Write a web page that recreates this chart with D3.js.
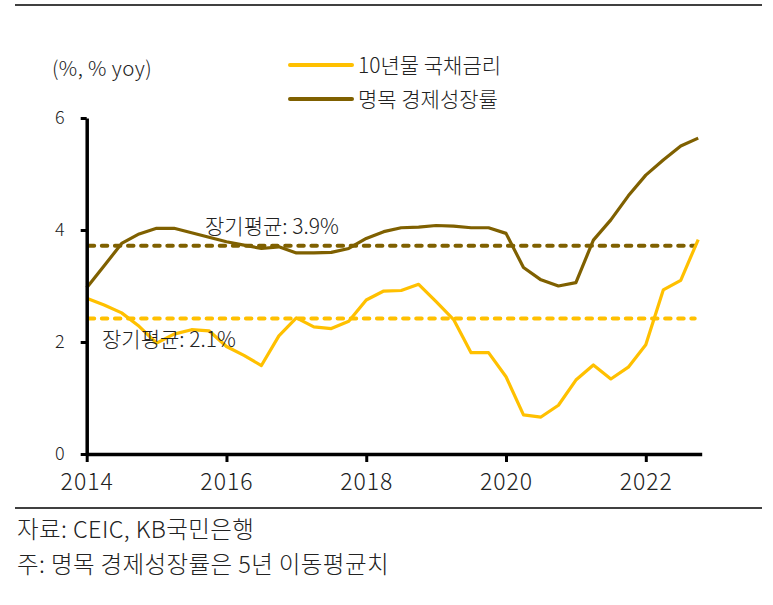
<!DOCTYPE html>
<html>
<head>
<meta charset="utf-8">
<script src="https://cdn.jsdelivr.net/npm/d3@7"></script>
<style>
  body { margin: 0; background: #fff; }
  svg { display: block; font-family: "Noto Sans CJK KR", "Noto Sans", sans-serif; font-weight: 300; }
  text { fill: #222; }
</style>
</head>
<body>
<svg id="chart"></svg>
<script>
const quarters = [
  "2014Q1","2014Q2","2014Q3","2014Q4","2015Q1","2015Q2","2015Q3","2015Q4",
  "2016Q1","2016Q2","2016Q3","2016Q4","2017Q1","2017Q2","2017Q3","2017Q4",
  "2018Q1","2018Q2","2018Q3","2018Q4","2019Q1","2019Q2","2019Q3","2019Q4",
  "2020Q1","2020Q2","2020Q3","2020Q4","2021Q1","2021Q2","2021Q3","2021Q4",
  "2022Q1","2022Q2","2022Q3","2022Q4"
]

// 10년물 국채금리
const bondYield = [
  2.78, 2.66, 2.52, 2.28, 1.98, 2.14, 2.22, 2.20,
  1.92, 1.76, 1.58, 2.11, 2.43, 2.27, 2.24, 2.37,
  2.75, 2.91, 2.92, 3.03, 2.72, 2.40, 1.81, 1.81,
  1.38, 0.70, 0.66, 0.87, 1.32, 1.59, 1.34, 1.55,
  1.95, 2.93, 3.10, 3.83
]

// 명목 경제성장률 (5년 이동평균)
const nominalGrowth = [
  2.97, 3.36, 3.76, 3.93, 4.03, 4.03, 3.95, 3.87,
  3.79, 3.73, 3.67, 3.70, 3.59, 3.59, 3.60, 3.67,
  3.85, 3.97, 4.04, 4.05, 4.08, 4.07, 4.04, 4.04,
  3.94, 3.33, 3.11, 3.00, 3.06, 3.82, 4.18, 4.61,
  4.98, 5.25, 5.50, 5.64
]

// 장기평균 (as drawn) and their labels
const averages = [
  { key: "growth", value: 3.72, label: "장기평균: 3.9%" },
  { key: "bond",   value: 2.42, label: "장기평균: 2.1%" }
]

const yTicks = [0, 2, 4, 6]
const xTicks = [2014, 2016, 2018, 2020, 2022]

const seriesNames = ["10년물 국채금리", "명목 경제성장률"]
const colors = { bond: "#FFC000", growth: "#7F6000" }

const width = 773
const height = 605

const svg = d3.select("#chart")
  .attr("width", width)
  .attr("height", height)

const toYear = q => +q.slice(0, 4) + (+q.slice(5) - 1) / 4

const x = d3.scaleLinear()
  .domain([2014, 2022.8])
  .range([86.7, 701.7])

const y = d3.scaleLinear()
  .domain([0, 6])
  .range([454, 118])

// frame rules
svg.append("line")
  .attr("x1", 15).attr("x2", 762).attr("y1", 5).attr("y2", 5)
  .attr("stroke", "#000").attr("stroke-width", 1.5)
svg.append("line")
  .attr("x1", 15).attr("x2", 762).attr("y1", 508).attr("y2", 508)
  .attr("stroke", "#000").attr("stroke-width", 1.5)

// unit label
svg.append("text")
  .attr("x", 52).attr("y", 76)
  .attr("font-size", 20.5)
  .attr("letter-spacing", 0.4)
  .text("(%, % yoy)")

// average lines
svg.selectAll(".avg")
  .data(averages)
  .join("line")
    .attr("class", "avg")
    .attr("x1", x(2014) + 2)
    .attr("x2", x(2022.7))
    .attr("y1", d => y(d.value))
    .attr("y2", d => y(d.value))
    .attr("stroke", d => colors[d.key])
    .attr("stroke-width", 4)
    .attr("stroke-linecap", "round")
    .attr("stroke-dasharray", "5.5,7.6")

// series lines
const line = d3.line()
  .x((d, i) => x(toYear(quarters[i])))
  .y(d => y(d))

svg.append("path")
  .datum(bondYield)
  .attr("d", line)
  .attr("fill", "none")
  .attr("stroke", colors.bond)
  .attr("stroke-width", 3.2)
  .attr("stroke-linejoin", "round")

svg.append("path")
  .datum(nominalGrowth)
  .attr("d", line)
  .attr("fill", "none")
  .attr("stroke", colors.growth)
  .attr("stroke-width", 3.2)
  .attr("stroke-linejoin", "round")

// average annotations
svg.append("text")
  .attr("x", 205).attr("y", 234)
  .attr("font-size", 21)
  .text(averages[0].label)
svg.append("text")
  .attr("x", 102).attr("y", 347)
  .attr("font-size", 21)
  .text(averages[1].label)

// axes
const yAxis = svg.append("g")
  .attr("transform", `translate(${x(2014)},0)`)
  .call(d3.axisLeft(y).tickValues(yTicks).tickFormat(d3.format("d"))
    .tickSize(6).tickSizeOuter(0).tickPadding(16))
  .attr("font-family", null)
  .attr("font-size", null)
yAxis.select(".domain").attr("stroke", "#000").attr("stroke-width", 3.5)
yAxis.selectAll(".tick line").attr("stroke", "#000").attr("stroke-width", 3)
yAxis.selectAll(".tick text")
  .attr("font-size", 18)
  .attr("fill", "#222")

const xAxis = svg.append("g")
  .attr("transform", `translate(0,${y(0)})`)
  .call(d3.axisBottom(x).tickValues(xTicks).tickFormat(d3.format("d"))
    .tickSize(8).tickSizeOuter(0).tickPadding(12))
  .attr("font-family", null)
  .attr("font-size", null)
xAxis.select(".domain").attr("stroke", "#000").attr("stroke-width", 3.5)
xAxis.selectAll(".tick line").attr("stroke", "#000").attr("stroke-width", 3)
xAxis.selectAll(".tick text")
  .attr("font-size", 23)
  .attr("letter-spacing", 1)
  .attr("fill", "#222")

// legend
const legend = svg.append("g")
  .selectAll("g")
  .data([
    { name: seriesNames[0], color: colors.bond, cy: 65 },
    { name: seriesNames[1], color: colors.growth, cy: 99 }
  ])
  .join("g")
    .attr("transform", d => `translate(290,${d.cy})`)

legend.append("line")
  .attr("x1", 0).attr("x2", 62)
  .attr("stroke", d => d.color)
  .attr("stroke-width", 4)
  .attr("stroke-linecap", "round")

legend.append("text")
  .attr("x", 68)
  .attr("y", 7.5)
  .attr("font-size", 21)
  .text(d => d.name)

// footer
svg.append("text")
  .attr("x", 17).attr("y", 538)
  .attr("font-size", 23.5)
  .attr("letter-spacing", 0.4)
  .text("자료: CEIC, KB국민은행")
svg.append("text")
  .attr("x", 17).attr("y", 573)
  .attr("font-size", 23.5)
  .attr("letter-spacing", 0.4)
  .text("주: 명목 경제성장률은 5년 이동평균치")
</script>
</body>
</html>
